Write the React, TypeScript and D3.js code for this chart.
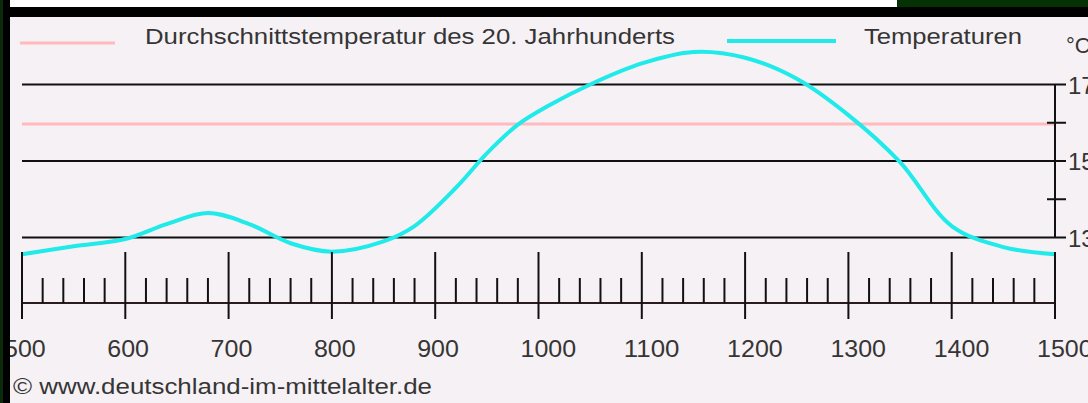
import React from 'react';
import * as d3 from 'd3';

// Jahre und Temperaturen (°C)
const years = [500, 550, 600, 640, 680, 720, 760, 800, 850, 880, 920, 950, 980, 1010, 1050, 1100, 1150, 1200, 1250, 1300, 1350, 1400, 1450, 1500];
const temps = [12.56, 12.77, 12.96, 13.35, 13.64, 13.35, 12.85, 12.63, 12.9, 13.3, 14.3, 15.2, 15.95, 16.45, 17.0, 17.55, 17.85, 17.7, 17.15, 16.2, 14.97, 13.3, 12.75, 12.56];
const average20th = 15.97;
const yearTicks = [500, 600, 700, 800, 900, 1000, 1100, 1200, 1300, 1400, 1500];
const tempTicks = [13, 14, 15, 16, 17];
const tempLabels = [13, 15, 17];
const legendLabels = ['Durchschnittstemperatur des 20. Jahrhunderts', 'Temperaturen'];
const source = '© www.deutschland-im-mittelalter.de';

const W = 1088;
const H = 403;
const FONT = '"Liberation Sans", Arial, sans-serif';
const TEXT = '#353535';
const CYAN = '#20eaea';
const PINK = '#ffbabd';

export default function App() {
	const x = d3.scaleLinear().domain([500, 1500]).range([22, 1055]);
	const y = d3.scaleLinear().domain([13, 17]).range([237.5, 84.5]);
	const axisY = 303;

	const line = d3.line<number>()
		.curve(d3.curveCatmullRom.alpha(0.5))
		.x((d, i) => x(years[i]))
		.y(d => y(d));

	const minorYears = d3.range(500, 1501, 20).filter(v => v % 100 !== 0);

	return (
		<svg width={W} height={H} style={{ position: 'absolute', left: 0, top: 0, display: 'block' }}>
			{/* Rahmen */}
			<rect x={0} y={0} width={W} height={H} fill="#000" />
			<rect x={10} y={0} width={887} height={7} fill="#fff" />
			<rect x={897} y={0} width={W - 897} height={7} fill="#043204" />
			<rect x={10} y={17} width={W - 10} height={H - 17} fill="#f6f1f4" />

			{/* Legende */}
			<line x1={20} x2={115} y1={43} y2={43} stroke={PINK} strokeWidth={3} />
			<text x={145} y={44} fontFamily={FONT} fontSize={22} fill={TEXT}
				textLength={530} lengthAdjust="spacingAndGlyphs">{legendLabels[0]}</text>
			<line x1={727} x2={836} y1={41} y2={41} stroke={CYAN} strokeWidth={4} />
			<text x={864} y={44} fontFamily={FONT} fontSize={22} fill={TEXT}
				textLength={158} lengthAdjust="spacingAndGlyphs">{legendLabels[1]}</text>
			<text x={1066} y={53} fontFamily={FONT} fontSize={22} fill={TEXT}>°C</text>

			{/* Gitterlinien und rechte Achse */}
			{tempLabels.map(t => (
				<line key={'g' + t} x1={x(500)} x2={1066} y1={y(t)} y2={y(t)} stroke="#111" strokeWidth={2} />
			))}
			<line x1={x(500)} x2={x(1500)} y1={y(average20th)} y2={y(average20th)} stroke={PINK} strokeWidth={3} />
			<line x1={x(1500)} x2={x(1500)} y1={y(17)} y2={y(13)} stroke="#111" strokeWidth={2} />
			{tempTicks.filter(t => !tempLabels.includes(t)).map(t => (
				<line key={'t' + t} x1={1047} x2={1066} y1={y(t)} y2={y(t)} stroke="#111" strokeWidth={2} />
			))}
			{tempLabels.map(t => (
				<text key={'l' + t} x={1068} y={y(t) + 9} fontFamily={FONT} fontSize={24} fill={TEXT}>{t}</text>
			))}

			{/* Temperaturkurve */}
			<path d={line(temps) ?? ''} fill="none" stroke={CYAN} strokeWidth={4} strokeLinejoin="round" />

			{/* Zeitachse */}
			<line x1={x(500)} x2={x(1500)} y1={axisY} y2={axisY} stroke="#2a1c1c" strokeWidth={2} />
			{yearTicks.map(v => (
				<line key={'M' + v} x1={x(v)} x2={x(v)} y1={252} y2={319} stroke="#111" strokeWidth={2} />
			))}
			{minorYears.map(v => (
				<line key={'m' + v} x1={x(v)} x2={x(v)} y1={278} y2={axisY} stroke="#111" strokeWidth={2} />
			))}
			{yearTicks.map(v => (
				<text key={'y' + v} x={x(v) - 18} y={357} fontFamily={FONT} fontSize={24} fill={TEXT}
					textLength={String(v).length * 13.9} lengthAdjust="spacingAndGlyphs">{v}</text>
			))}

			{/* Quelle */}
			<text x={13} y={394} fontFamily={FONT} fontSize={22} fill={TEXT}
				textLength={419} lengthAdjust="spacingAndGlyphs">{source}</text>

			{/* linker Rand über den Beschriftungen */}
			<rect x={0} y={17} width={10} height={H - 17} fill="#000" />
			<rect x={0} y={0} width={3} height={H} fill="#0b2a0b" />
		</svg>
	);
}
